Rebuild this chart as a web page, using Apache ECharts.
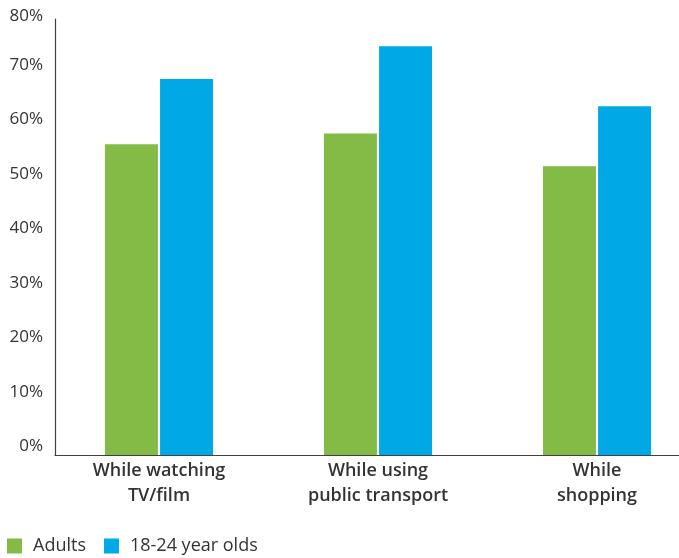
<!DOCTYPE html>
<html>
<head>
<meta charset="utf-8">
<script src="https://cdn.jsdelivr.net/npm/echarts@6/dist/echarts.min.js"></script>
<style>
  html, body { margin: 0; padding: 0; background: #fff; }
  #chart { width: 679px; height: 558px; }
</style>
</head>
<body>
<div id="chart"></div>
<script>
// Share of people doing each activity, by age group (%)
const categories = ['While watching\nTV/film', 'While using\npublic transport', 'While\nshopping'];
const adults = [57, 59, 53];
const youngAdults = [69, 75, 64];
const seriesNames = ['Adults', '18-24 year olds'];
const yTicks = { min: 0, max: 80, interval: 10 };

const textColor = '#333333';
const axisColor = '#404040';
const fontFamily = '"Open Sans", "Noto Sans", sans-serif';

const chart = echarts.init(document.getElementById('chart'), null, { renderer: 'canvas' });
chart.setOption({
  animation: false,
  backgroundColor: '#ffffff',
  textStyle: { fontFamily: fontFamily },
  grid: [
    // plotting grid for the bars
    { left: 49.5, width: 657, top: 19, bottom: 103, containLabel: false, outerBoundsMode: 'none' },
    // frame grid that carries the baseline, starting at the value axis
    { left: 55, right: 0, top: 19, bottom: 103, containLabel: false, outerBoundsMode: 'none' }
  ],
  legend: {
    left: 7, top: 537, padding: 0,
    icon: 'rect', itemWidth: 15, itemHeight: 15, itemGap: 18,
    textStyle: { fontSize: 18, color: textColor, fontFamily: fontFamily, padding: [0, 0, 0, 6] },
    data: seriesNames
  },
  xAxis: [
    {
      type: 'category',
      gridIndex: 0,
      data: categories,
      axisLine: { show: false },
      axisTick: { show: false },
      axisLabel: {
        color: textColor, fontSize: 18, fontWeight: 600, fontFamily: fontFamily,
        lineHeight: 25, margin: 3
      }
    },
    {
      type: 'category',
      gridIndex: 1,
      data: categories,
      axisLine: { show: true, lineStyle: { color: axisColor, width: 1.2 } },
      axisTick: { show: false },
      axisLabel: { show: false }
    }
  ],
  yAxis: [
    {
      type: 'value',
      gridIndex: 0,
      min: yTicks.min, max: yTicks.max, interval: yTicks.interval,
      offset: -5.5,
      axisLine: { show: true, lineStyle: { color: axisColor, width: 1.2 } },
      axisTick: { show: false },
      splitLine: { show: false },
      axisLabel: {
        color: textColor, fontSize: 17, fontFamily: fontFamily,
        margin: 12, verticalAlign: 'bottom',
        // the top label is pulled down so it stays inside the canvas
        formatter: v => (v === yTicks.max ? '{top|' + v + '%}' : v + '%'),
        rich: {
          top: { fontSize: 17, color: textColor, fontFamily: fontFamily, lineHeight: 5 }
        }
      }
    },
    {
      type: 'value',
      gridIndex: 1,
      min: yTicks.min, max: yTicks.max,
      show: false
    }
  ],
  series: [
    {
      name: seriesNames[0], type: 'bar', data: adults,
      xAxisIndex: 0, yAxisIndex: 0,
      barWidth: 53, barGap: '4%',
      itemStyle: { color: '#84BB47' }
    },
    {
      name: seriesNames[1], type: 'bar', data: youngAdults,
      xAxisIndex: 0, yAxisIndex: 0,
      barWidth: 53,
      itemStyle: { color: '#00A9E6' }
    }
  ]
});
</script>
</body>
</html>
